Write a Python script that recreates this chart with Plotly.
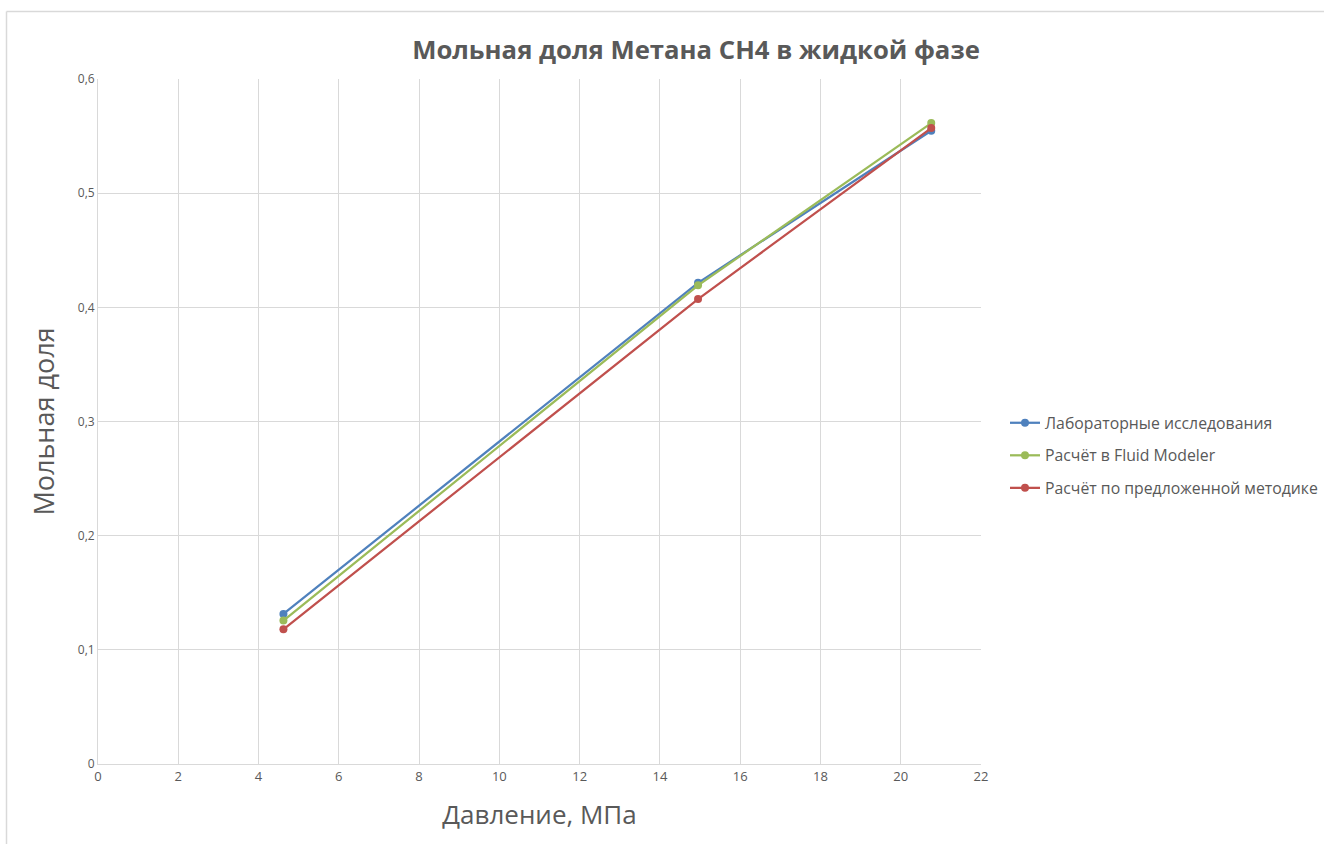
import plotly.graph_objects as go

# Давление, МПа
pressure = [4.62, 14.95, 20.76]

# Мольная доля метана в жидкой фазе
lab_values = [0.1314, 0.4215, 0.5547]
fluid_modeler_values = [0.1256, 0.4193, 0.5614]
method_values = [0.1180, 0.4072, 0.5570]

series_names = [
    "Лабораторные исследования",
    "Расчёт в Fluid Modeler",
    "Расчёт по предложенной методике",
]
series_colors = ["#4f81bd", "#9bbb59", "#c0504d"]

x_ticks = [0, 2, 4, 6, 8, 10, 12, 14, 16, 18, 20, 22]
y_ticks = [0, 0.1, 0.2, 0.3, 0.4, 0.5, 0.6]

fig = go.Figure()
for i, (name, vals, color) in enumerate(zip(series_names,
                                            [lab_values, fluid_modeler_values, method_values],
                                            series_colors)):
    fig.add_trace(go.Scatter(
        x=pressure, y=vals, name=name, mode="lines+markers",
        legendgroup=f"g{i}",
        line=dict(color=color, width=2.25),
        marker=dict(color=color, size=8),
    ))

W, H = 1324, 844
L, R, T, B = 98, 981, 79, 764

fig.update_layout(
    width=W, height=H,
    margin=dict(l=L, r=W - R, t=T, b=H - B, autoexpand=False),
    paper_bgcolor="white", plot_bgcolor="white",
    separators=", ",
    font=dict(family="Open Sans, Noto Sans, sans-serif", color="#595959"),
    title=dict(
        text="<b>Мольная доля Метана CH4 в жидкой фазе</b>",
        x=(696 - L) / (R - L), xref="paper", xanchor="center",
        y=1 - 50 / H, yref="container", yanchor="middle",
        font=dict(size=25.7, color="#595959", family="Open Sans, sans-serif"),
    ),
    xaxis=dict(
        range=[0, 22], tickvals=x_ticks, ticktext=[str(v) for v in x_ticks],
        showgrid=True, gridcolor="#d9d9d9", gridwidth=1,
        showline=True, linecolor="#d9d9d9", linewidth=1, mirror=False,
        zeroline=False, ticks="", tickfont=dict(size=13, color="#595959"),
        title=dict(text="Давление, МПа", font=dict(size=26, color="#595959"),
                   standoff=22),
    ),
    yaxis=dict(
        range=[0, 0.6], tickvals=y_ticks,
        ticktext=["0", "0,1", "0,2", "0,3", "0,4", "0,5", "0,6"],
        showgrid=True, gridcolor="#d9d9d9", gridwidth=1,
        showline=True, linecolor="#d9d9d9", linewidth=1,
        zeroline=False, ticks="", tickfont=dict(size=12, color="#595959"),
        title=dict(text="Мольная доля", font=dict(size=27, color="#595959"),
                   standoff=15),
    ),
    legend=dict(
        x=(1005 - L) / (R - L), xanchor="left",
        y=(B - 406) / (B - T), yanchor="top",
        xref="paper", yref="paper",
        font=dict(size=15.8, color="#595959"),
        itemwidth=30, tracegroupgap=9,
        bgcolor="rgba(0,0,0,0)",
    ),
    showlegend=True,
)

# Рамка области диаграммы
fig.add_shape(type="line", xref="paper", yref="paper",
              x0=(6.5 - L) / (R - L), x1=(W + 5 - L) / (R - L),
              y0=(B - 11.5) / (B - T), y1=(B - 11.5) / (B - T),
              line=dict(color="#d9d9d9", width=1.5))
fig.add_shape(type="line", xref="paper", yref="paper",
              x0=(6.5 - L) / (R - L), x1=(6.5 - L) / (R - L),
              y0=(B - 11.5) / (B - T), y1=(B - H - 5) / (B - T),
              line=dict(color="#d9d9d9", width=1.5))

fig.write_html("out.html")
